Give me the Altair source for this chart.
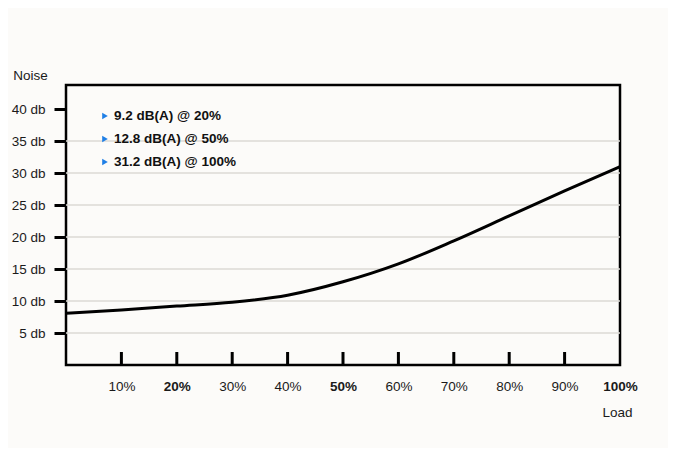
import altair as alt
import pandas as pd

# Data
load_pct = [0, 10, 20, 30, 40, 50, 60, 70, 80, 90, 100]
noise_db = [8.1, 8.6, 9.2, 9.8, 10.9, 13.0, 15.8, 19.4, 23.3, 27.2, 31.0]

x_tick_values = [10, 20, 30, 40, 50, 60, 70, 80, 90, 100]
x_inner_ticks = [10, 20, 30, 40, 50, 60, 70, 80, 90]
bold_ticks = [20, 50, 100]
y_tick_values = [5, 10, 15, 20, 25, 30, 35, 40]
grid_values = [5, 10, 15, 20, 25, 30, 35]

notes = ["9.2 dB(A) @ 20%", "12.8 dB(A) @ 50%", "31.2 dB(A) @ 100%"]

FONT = "Liberation Sans"
W, H = 554, 280
Y_MAX = 43.75

line_df = pd.DataFrame({"load": load_pct, "noise": noise_db})
grid_df = pd.DataFrame({"g": grid_values})
tick_df = pd.DataFrame({"t": x_inner_ticks})
note_df = pd.DataFrame({"label": notes, "i": list(range(len(notes)))})

xscale = alt.Scale(domain=[0, 100], nice=False, zero=False)
yscale = alt.Scale(domain=[0, Y_MAX], nice=False, zero=True)

bold_test = " || ".join(f"datum.value == {v}" for v in bold_ticks)

x_axis = alt.Axis(
    values=x_tick_values, tickCount=50,
    labelExpr="datum.value + '%'",
    ticks=False, grid=False, domain=False,
    labelFont=FONT, labelFontSize=13.5, labelColor="#1a1a1a",
    labelPadding=14, labelOverlap=False,
    labelFontWeight={"condition": {"test": bold_test, "value": "bold"}, "value": "normal"},
    labelFlush=False,
    title="Load", titleFont=FONT, titleFontSize=13.5, titleFontWeight="normal",
    titleColor="#1a1a1a", titleAnchor="start", titleAlign="center",
    titleX=551, titleY=51, titleBaseline="alphabetic",
)
y_axis = alt.Axis(
    values=y_tick_values, tickCount=50,
    labelExpr="datum.value + ' db'",
    ticks=True, tickSize=12, tickWidth=3, tickColor="black",
    grid=False, domain=False, labelOverlap=False,
    labelFont=FONT, labelFontSize=13.5, labelColor="#1a1a1a",
    labelPadding=9,
    title="Noise", titleAngle=0, titleFont=FONT, titleFontSize=13.5,
    titleFontWeight="normal", titleColor="#1a1a1a",
    titleAlign="center", titleBaseline="middle",
    titleX=-36, titleY=-10,
)

grid = alt.Chart(grid_df).mark_rule(color="#dcdad4", strokeWidth=1.6).encode(
    y=alt.Y("g:Q", scale=yscale, axis=y_axis),
)

xticks = alt.Chart(tick_df).mark_rule(color="black", strokeWidth=3).encode(
    x=alt.X("t:Q", scale=xscale, axis=x_axis),
    y=alt.value(H - 13),
    y2=alt.value(H),
)

line = alt.Chart(line_df).mark_line(
    color="black", strokeWidth=3, interpolate="monotone"
).encode(
    x=alt.X("load:Q", scale=xscale),
    y=alt.Y("noise:Q", scale=yscale),
)

note_base = alt.Chart(note_df).transform_calculate(ypx="31 + 23 * datum.i")
arrows = note_base.mark_point(
    shape="triangle-right", filled=True, size=42, color="#1f7fe6", opacity=1
).encode(
    x=alt.value(39),
    y=alt.Y("ypx:Q", scale=None),
)
texts = note_base.mark_text(
    align="left", baseline="middle", font=FONT, fontSize=13.5,
    fontWeight="bold", color="#111111"
).encode(
    x=alt.value(48),
    y=alt.Y("ypx:Q", scale=None),
    text="label:N",
)

chart = alt.layer(grid, xticks, line, arrows, texts).properties(
    width=W, height=H,
    background="#fcfbf9",
    autosize=alt.AutoSizeParams(type="none"),
    padding={"left": 58, "top": 77, "right": 48, "bottom": 83},
).configure_view(
    stroke="black", strokeWidth=2.5, fill="#fcfbf9"
)

chart.save("out.html", embed_options={"renderer": "svg", "actions": False})
